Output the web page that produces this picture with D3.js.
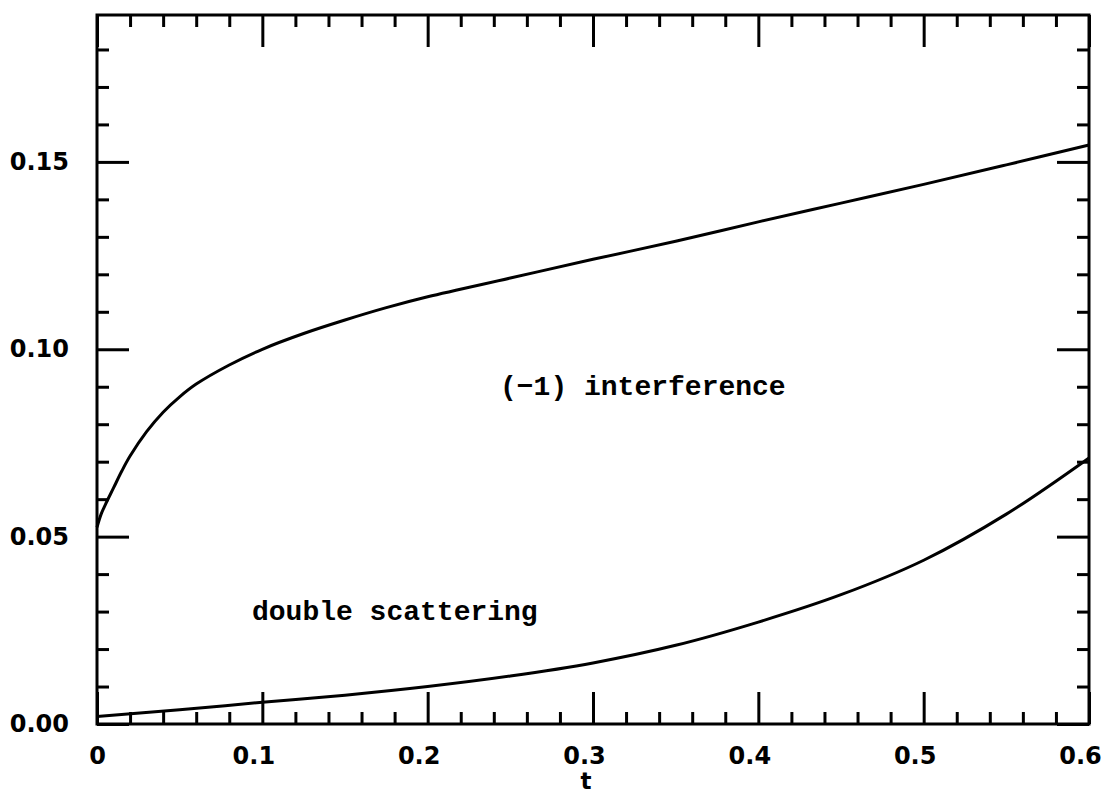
<!DOCTYPE html>
<html>
<head>
<meta charset="utf-8">
<script src="https://cdn.jsdelivr.net/npm/d3@7"></script>
<style>
  html, body { margin: 0; padding: 0; background: #fff; }
  svg { display: block; }
</style>
</head>
<body>
<svg id="chart" width="1107" height="796"></svg>
<script>
// Momentum transfer t
const tInterf = [0, 0.0025, 0.005, 0.01, 0.015, 0.02, 0.03, 0.04, 0.05, 0.06, 0.08, 0.10, 0.125, 0.15, 0.175, 0.20, 0.25, 0.30, 0.35, 0.40, 0.45, 0.50, 0.55, 0.60];
// (-1) interference contribution
const vInterf = [0.0525, 0.0560, 0.0585, 0.0630, 0.0675, 0.0715, 0.0780, 0.0832, 0.0873, 0.0907, 0.0958, 0.1000, 0.1042, 0.1078, 0.1111, 0.1140, 0.1190, 0.1240, 0.1288, 0.1340, 0.1390, 0.1440, 0.1492, 0.1545];

const tDouble = [0, 0.05, 0.10, 0.15, 0.20, 0.25, 0.30, 0.35, 0.40, 0.45, 0.50, 0.55, 0.60];
// double scattering contribution
const vDouble = [0.0020, 0.0038, 0.0058, 0.0077, 0.0100, 0.0128, 0.0163, 0.0210, 0.0272, 0.0345, 0.0437, 0.0560, 0.0710];

const xMajor = [0, 0.1, 0.2, 0.3, 0.4, 0.5, 0.6];
const xLabels = ["0", "0.1", "0.2", "0.3", "0.4", "0.5", "0.6"];
const yMajor = [0, 0.05, 0.10, 0.15];
const yLabels = ["0.00", "0.05", "0.10", "0.15"];

const svg = d3.select("#chart");
const plotL = 97, plotR = 1089, plotT = 15, plotB = 724;

const x = d3.scaleLinear().domain([0, 0.6]).range([plotL, plotR]);
const y = d3.scaleLinear().domain([0, 0.1892]).range([plotB, plotT]);

const ink = "#000";
const majorLen = 32, minorLen = 12;

// minor ticks every 0.02 in t, every 0.01 in y
const xMinor = d3.range(0, 31).map(i => i * 0.02).filter(v => !xMajor.some(m => Math.abs(m - v) < 1e-9));
const yMinor = d3.range(0, 19).map(i => i * 0.01).filter(v => v <= 0.1892 && !yMajor.some(m => Math.abs(m - v) < 1e-9));

const g = svg.append("g");

// bottom axis (ticks point inward)
const gb = g.append("g").attr("transform", `translate(0,${plotB})`);
gb.call(d3.axisBottom(x).tickValues(xMajor).tickSizeInner(-majorLen).tickSizeOuter(0)
  .tickFormat((d, i) => xLabels[i]).tickPadding(23));
// decimal labels sit a little left of their tick
gb.selectAll(".tick text").attr("dx", (d, i) => xLabels[i].length > 1 ? -9 : 0);
gb.append("g").call(d3.axisBottom(x).tickValues(xMinor).tickSizeInner(-minorLen).tickSizeOuter(0).tickFormat(""));

// top axis
const gt = g.append("g").attr("transform", `translate(0,${plotT})`);
gt.call(d3.axisTop(x).tickValues(xMajor).tickSizeInner(-majorLen).tickSizeOuter(0).tickFormat(""));
gt.append("g").call(d3.axisTop(x).tickValues(xMinor).tickSizeInner(-minorLen).tickSizeOuter(0).tickFormat(""));

// left axis
const gl = g.append("g").attr("transform", `translate(${plotL},0)`);
gl.call(d3.axisLeft(y).tickValues(yMajor).tickSizeInner(-majorLen).tickSizeOuter(0)
  .tickFormat((d, i) => yLabels[i]).tickPadding(28));
gl.append("g").call(d3.axisLeft(y).tickValues(yMinor).tickSizeInner(-minorLen).tickSizeOuter(0).tickFormat(""));

// right axis
const gr = g.append("g").attr("transform", `translate(${plotR},0)`);
gr.call(d3.axisRight(y).tickValues(yMajor).tickSizeInner(-majorLen).tickSizeOuter(0).tickFormat(""));
gr.append("g").call(d3.axisRight(y).tickValues(yMinor).tickSizeInner(-minorLen).tickSizeOuter(0).tickFormat(""));

g.selectAll(".domain").remove();
g.selectAll(".tick line").attr("stroke", ink).attr("stroke-width", 3);
g.selectAll(".tick text")
  .attr("fill", ink)
  .style("font-family", "'DejaVu Sans', sans-serif")
  .style("font-weight", "bold")
  .style("font-size", "24px");

// frame
svg.append("rect")
  .attr("x", plotL).attr("y", plotT)
  .attr("width", plotR - plotL).attr("height", plotB - plotT)
  .attr("fill", "none").attr("stroke", ink).attr("stroke-width", 3);

// curves
const line = d3.line().x(d => x(d[0])).y(d => y(d[1])).curve(d3.curveCatmullRom.alpha(0.5));
svg.append("path")
  .datum(tInterf.map((t, i) => [t, vInterf[i]]))
  .attr("d", line).attr("fill", "none").attr("stroke", ink).attr("stroke-width", 3);
svg.append("path")
  .datum(tDouble.map((t, i) => [t, vDouble[i]]))
  .attr("d", line).attr("fill", "none").attr("stroke", ink).attr("stroke-width", 3);

// annotations
const note = (tx, ty, s) => svg.append("text")
  .attr("x", tx).attr("y", ty)
  .attr("fill", ink)
  .style("font-family", "'Liberation Mono', monospace")
  .style("font-weight", "bold")
  .style("font-size", "28px")
  .text(s);
note(500, 395, "(\u22121) interference");
note(252, 620, "double scattering");

// axis title
svg.append("text")
  .attr("x", 586).attr("y", 789)
  .attr("text-anchor", "middle")
  .attr("fill", ink)
  .style("font-family", "'DejaVu Sans', sans-serif")
  .style("font-weight", "bold")
  .style("font-size", "23px")
  .text("t");
</script>
</body>
</html>
